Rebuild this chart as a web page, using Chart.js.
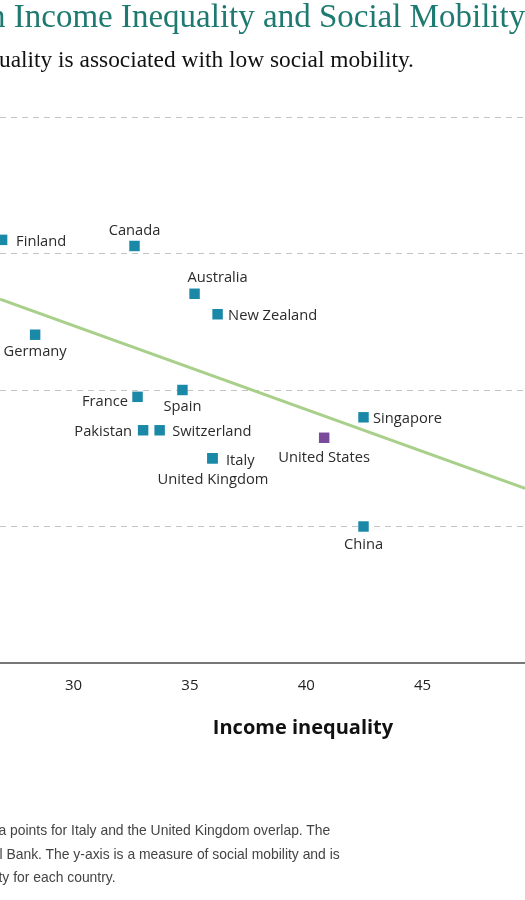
<!DOCTYPE html>
<html>
<head>
<meta charset="utf-8">
<script src="https://cdn.jsdelivr.net/npm/chart.js@4.4.1/dist/chart.umd.min.js"></script>
<style>
  html, body { margin: 0; padding: 0; background: #fff; }
  body { width: 525px; height: 900px; overflow: hidden; position: relative; }
  .t { position: absolute; white-space: nowrap; }
  #title { top: 0px; left: -11px; font: 33px/33px "Liberation Serif", serif; color: #1e7a70; }
  #subtitle { top: 47.5px; left: -1px; font: 23.4px/23.5px "Liberation Serif", serif; color: #111; }
  #xtitle { top: 715px; left: 303px; transform: translateX(-50%); font: bold 20px/24px "Open Sans", sans-serif; color: #111; }
  .note { font: 13.9px/23.5px "Liberation Sans", Arial, sans-serif; color: #444; }
  #wrap { position: absolute; left: 0; top: 0; width: 525px; height: 900px; }
</style>
</head>
<body>
<div id="wrap"><canvas id="c"></canvas></div>
<div class="t" id="title">n Income Inequality and Social Mobility</div>
<div class="t" id="subtitle">uality is associated with low social mobility.</div>
<div class="t" id="xtitle">Income inequality</div>
<div class="t note" style="top:819px;left:-1.5px;">a points for Italy and the United Kingdom overlap. The</div>
<div class="t note" style="top:843px;left:-0.5px;">l Bank. The y-axis is a measure of social mobility and is</div>
<div class="t note" style="top:866px;left:-1.5px;">ty for each country.</div>
<script>
// ---- data ----
const countries = ["Finland","Canada","Australia","New Zealand","Germany","France","Spain","Pakistan","Switzerland","Italy","United Kingdom","United States","Singapore","China"];
const incomeInequality = [26.93, 32.62, 35.20, 36.19, 28.35, 32.75, 34.68, 32.99, 33.70, 35.97, 35.97, 40.77, 42.46, 42.46];
const socialMobility  = [0.620, 0.611, 0.541, 0.511, 0.481, 0.390, 0.400, 0.341, 0.341, 0.300, 0.300, 0.330, 0.360, 0.200];
const trendX = [26.84, 49.40];
const trendY = [0.533, 0.256];
const xTickValues = [30, 35, 40, 45];
const yGridValues = [0, 0.2, 0.4, 0.6, 0.8];

// ---- label placement (styling, not data) ----
const labelPlacement = {
  "Finland":        { align: "left",   dx: 14,   dy: 0 },
  "Canada":         { align: "center", dx: 0,    dy: -17 },
  "Australia":      { align: "center", dx: 23,   dy: -17 },
  "New Zealand":    { align: "left",   dx: 10.5, dy: 0 },
  "Germany":        { align: "center", dx: 0,    dy: 16 },
  "France":         { align: "right",  dx: -9.5, dy: 3.5 },
  "Spain":          { align: "center", dx: 0,    dy: 15 },
  "Pakistan":       { align: "right",  dx: -11,  dy: 0 },
  "Switzerland":    { align: "left",   dx: 12.5, dy: 0 },
  "Italy":          { align: "left",   dx: 13.5, dy: 1.5 },
  "United Kingdom": { align: "center", dx: 0.5,  dy: 20.5 },
  "United States":  { align: "center", dx: 0,    dy: 18.5 },
  "Singapore":      { align: "left",   dx: 9.5,  dy: 0 },
  "China":          { align: "center", dx: 0,    dy: 16.5 }
};
const LABEL_SHIFT_Y = 1.5;

const TEAL = "#1a89a8";
const PURPLE = "#7b4b9b";
const pointColors = countries.map(c => c === "United States" ? PURPLE : TEAL);

const labelPlugin = {
  id: "pointLabels",
  afterDatasetsDraw(chart) {
    const meta = chart.getDatasetMeta(1);
    const ctx = chart.ctx;
    ctx.save();
    ctx.font = '14.7px "Open Sans", sans-serif';
    ctx.fillStyle = "#2b2b2b";
    ctx.textBaseline = "middle";
    meta.data.forEach((el, i) => {
      const name = countries[i];
      const p = labelPlacement[name];
      ctx.textAlign = p.align;
      ctx.fillText(name, el.x + p.dx, el.y + p.dy + LABEL_SHIFT_Y);
    });
    ctx.restore();
  }
};

new Chart(document.getElementById("c"), {
  data: {
    datasets: [
      {
        type: "line",
        data: trendX.map((x, i) => ({ x, y: trendY[i] })),
        borderColor: "#a9d08a",
        borderWidth: 3,
        pointRadius: 0,
        fill: false,
        order: 2
      },
      {
        type: "scatter",
        data: incomeInequality.map((x, i) => ({ x, y: socialMobility[i] })),
        pointStyle: "rect",
        pointRadius: 7.4,
        pointHoverRadius: 7.4,
        backgroundColor: pointColors,
        borderColor: pointColors,
        borderWidth: 0,
        order: 1
      }
    ]
  },
  options: {
    responsive: true,
    maintainAspectRatio: false,
    animation: false,
    events: [],
    layout: { autoPadding: false, padding: { top: 117, left: 0, right: 0, bottom: 197 } },
    plugins: { legend: { display: false }, tooltip: { enabled: false }, title: { display: false } },
    scales: {
      x: {
        type: "linear",
        min: trendX[0],
        max: trendX[1],
        afterBuildTicks: s => { s.ticks = xTickValues.map(v => ({ value: v })); },
        afterFit: s => { s.height = 40; s.paddingLeft = 0; s.paddingRight = 0; },
        grid: { display: false, drawTicks: false },
        border: { display: true, color: "#777", width: 2 },
        ticks: { padding: 13.5, color: "#222", font: { family: "Open Sans", size: 15 } }
      },
      y: {
        type: "linear",
        min: yGridValues[0],
        max: yGridValues[yGridValues.length - 1],
        afterBuildTicks: s => { s.ticks = yGridValues.map(v => ({ value: v })); },
        afterFit: s => { s.width = 0; s.paddingTop = 0; s.paddingBottom = 0; },
        grid: { display: true, drawTicks: false, color: "#c4c4c4", lineWidth: 1 },
        border: { display: false, dash: [6, 5] },
        ticks: { display: false }
      }
    }
  },
  plugins: [labelPlugin]
});
</script>
</body>
</html>
